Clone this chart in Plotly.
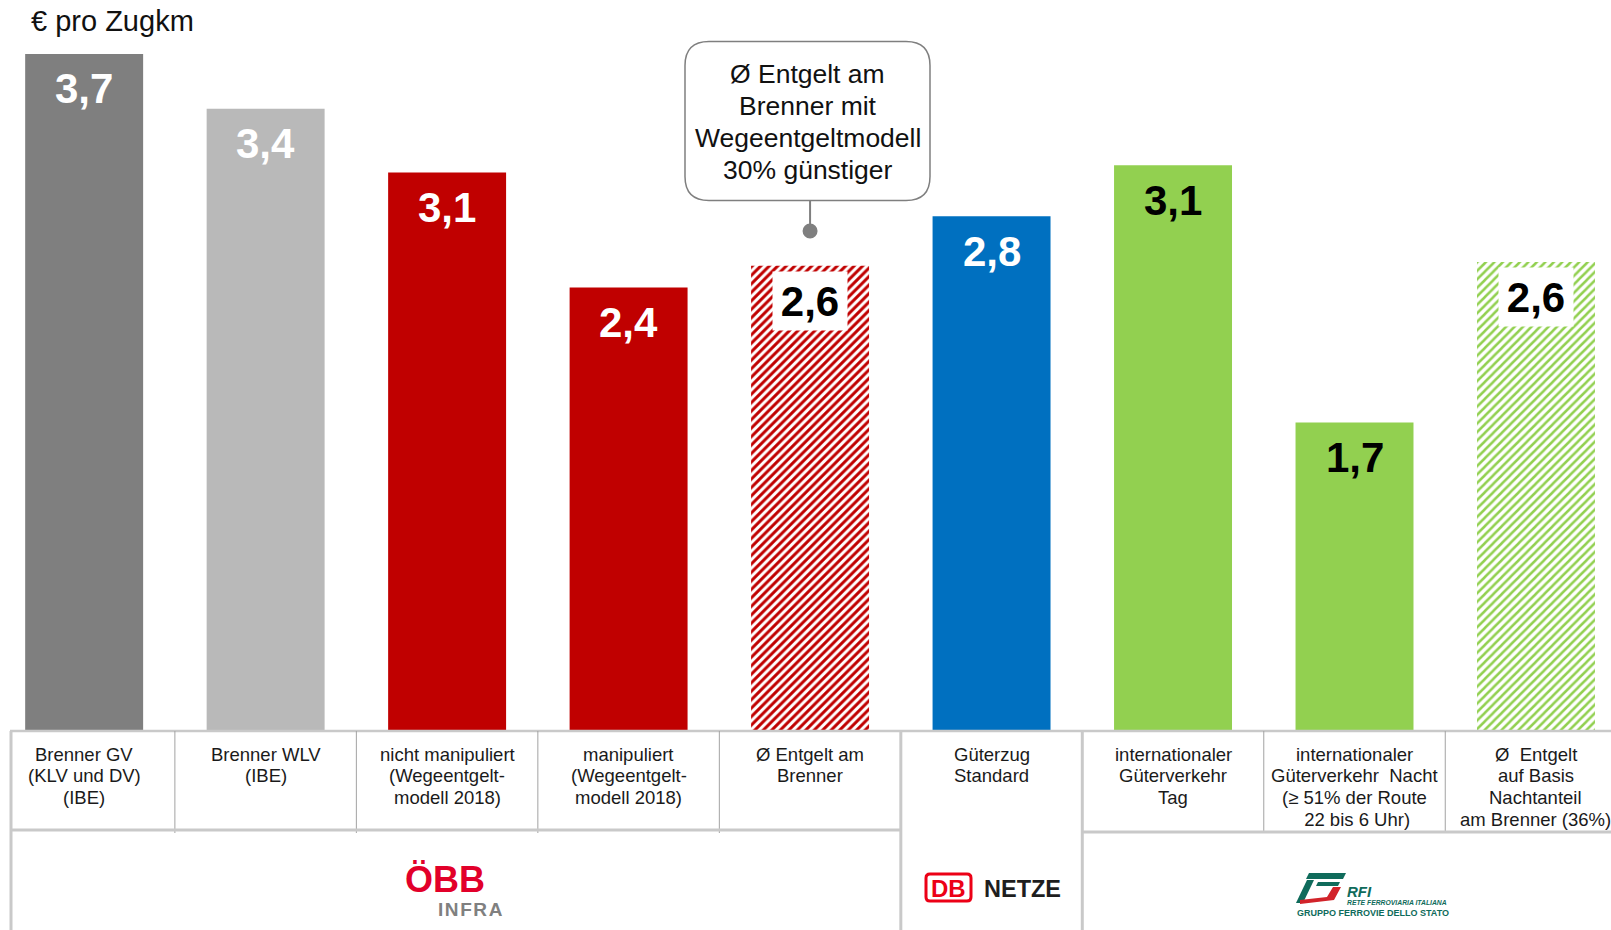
import plotly.graph_objects as go

W, H = 1611, 930
FONT = "Liberation Sans, Arial, sans-serif"

# ---------------- data ----------------
categories = [
    "Brenner GV<br>(KLV und DV)<br>(IBE)",
    "Brenner WLV<br>(IBE)",
    "nicht manipuliert<br>(Wegeentgelt-<br>modell 2018)",
    "manipuliert<br>(Wegeentgelt-<br>modell 2018)",
    "Ø Entgelt am<br>Brenner",
    "Güterzug<br>Standard",
    "internationaler<br>Güterverkehr<br>Tag",
    "internationaler<br>Güterverkehr\u00a0 Nacht<br>(≥ 51% der Route<br>\u00a022 bis 6 Uhr)",
    "Ø\u00a0 Entgelt<br>auf Basis<br>Nachtanteil<br>am Brenner (36%)",
]
values = [3.71, 3.41, 3.06, 2.43, 2.55, 2.82, 3.10, 1.69, 2.57]
value_labels = ["3,7", "3,4", "3,1", "2,4", "2,6", "2,8", "3,1", "1,7", "2,6"]
operators = ["ÖBB", "ÖBB", "ÖBB", "ÖBB", "ÖBB", "DB", "RFI", "RFI", "RFI"]
bar_colors = ["#7F7F7F", "#B9B9B9", "#C00000", "#C00000", "#C00000",
              "#0070C0", "#92D050", "#92D050", "#92D050"]
hatched = [False, False, False, False, True, False, False, False, True]
label_colors = ["white", "white", "white", "white", "black",
                "white", "black", "black", "black"]
unit_title = "€ pro Zugkm"
callout_lines = ["Ø Entgelt am", "Brenner mit", "Wegeentgeltmodell", "30% günstiger"]
callout_target = 4

# ---------------- geometry ----------------
CAT_PX = 181.48
FIRST_CENTER = 84.15
BASE_Y = 731
UNIT_PX = 182.5
X0 = -FIRST_CENTER / CAT_PX
X1 = X0 + W / CAT_PX
Y0 = -(H - BASE_Y) / UNIT_PX
Y1 = BASE_Y / UNIT_PX


def xp(d):
    return (d - X0) / (X1 - X0)


def pxp(p):
    return p / W


def pyp(p):
    return 1 - p / H


fig = go.Figure()
n = len(categories)
xs = list(range(n))

fig.add_trace(go.Bar(
    x=xs, y=values, width=0.65,
    marker=dict(
        color=bar_colors, line=dict(width=0),
        pattern=dict(
            shape=["/" if h else "" for h in hatched],
            fgcolor=bar_colors, bgcolor="white",
            size=6, solidity=[0.5 if c == "#C00000" else 0.42 for c in bar_colors],
            fillmode="replace",
        ),
    ),
    hoverinfo="skip",
))

annotations = []
shapes = []

# value labels
for i in xs:
    a = dict(x=i, y=values[i], xref="x", yref="y", yshift=-35,
             text="<b>" + value_labels[i] + "</b>", showarrow=False,
             xanchor="center", yanchor="middle",
             font=dict(family=FONT, size=42, color=label_colors[i]))
    if hatched[i]:
        a.update(bgcolor="white", width=72, height=56)
    annotations.append(a)

# title
annotations.append(dict(x=pxp(29), y=pyp(21), xref="paper", yref="paper",
                        text=unit_title, showarrow=False, xanchor="left", yanchor="middle",
                        font=dict(family=FONT, size=29, color="#111111")))

# category labels (table row 1)
for i, cat in enumerate(categories):
    for k, line in enumerate(cat.split("<br>")):
        annotations.append(dict(x=i, xref="x", y=pyp(754 + 21.8 * k), yref="paper",
                                text=line, showarrow=False, xanchor="center", yanchor="middle",
                                font=dict(family=FONT, size=18.5, color="#1a1a1a")))

# table lines
LIGHT = "#C9C9C9"
DARK = "#A3A3A3"
shapes.append(dict(type="line", xref="paper", yref="paper", x0=pxp(10), x1=1,
                   y0=pyp(731), y1=pyp(731), line=dict(color=LIGHT, width=2.5)))
shapes.append(dict(type="line", xref="paper", yref="paper", x0=pxp(11), x1=pxp(11),
                   y0=pyp(731), y1=0, line=dict(color=LIGHT, width=3)))
for i in range(n - 1):
    if operators[i] == operators[i + 1]:
        shapes.append(dict(type="line", xref="x", yref="paper", x0=i + 0.5, x1=i + 0.5,
                           y0=pyp(731), y1=pyp(833), line=dict(color=DARK, width=1)))
    else:
        shapes.append(dict(type="line", xref="x", yref="paper", x0=i + 0.5, x1=i + 0.5,
                           y0=pyp(731), y1=0, line=dict(color=LIGHT, width=3)))
# group bottom lines of row 1
first_db = operators.index("DB")
first_rfi = operators.index("RFI")
shapes.append(dict(type="line", xref="paper", yref="paper", x0=pxp(11), x1=xp(first_db - 0.5),
                   y0=pyp(830), y1=pyp(830), line=dict(color=LIGHT, width=3)))
shapes.append(dict(type="line", xref="paper", yref="paper", x0=xp(first_rfi - 0.5), x1=1,
                   y0=pyp(832), y1=pyp(832), line=dict(color=LIGHT, width=3)))


# callout box
def rrect(x0, y0, x1, y1, r):
    pts = [
        ("M", (x0 + r, y0)), ("L", (x1 - r, y0)), ("Q", (x1, y0), (x1, y0 + r)),
        ("L", (x1, y1 - r)), ("Q", (x1, y1), (x1 - r, y1)),
        ("L", (x0 + r, y1)), ("Q", (x0, y1), (x0, y1 - r)),
        ("L", (x0, y0 + r)), ("Q", (x0, y0), (x0 + r, y0)),
    ]
    s = ""
    for p in pts:
        cmd = p[0]
        coords = " ".join(f"{pxp(a):.5f},{pyp(b):.5f}" for a, b in p[1:])
        s += f"{cmd} {coords} "
    return s + "Z"


shapes.append(dict(type="path", xref="paper", yref="paper",
                   path=rrect(685, 41.5, 930, 200.5, 24),
                   line=dict(color="#7F7F7F", width=1.5), fillcolor="white"))
shapes.append(dict(type="line", xref="x", yref="paper", x0=callout_target, x1=callout_target,
                   y0=pyp(200.5), y1=pyp(228), line=dict(color="#7F7F7F", width=2)))
r_c = 7.5
shapes.append(dict(type="circle", xref="x", yref="paper",
                   x0=callout_target - r_c / CAT_PX, x1=callout_target + r_c / CAT_PX,
                   y0=pyp(231 + r_c), y1=pyp(231 - r_c),
                   line=dict(width=0), fillcolor="#7F7F7F"))
for k, line in enumerate(callout_lines):
    annotations.append(dict(x=pxp(807.5), y=pyp(74 + 32 * k), xref="paper", yref="paper",
                            text=line, showarrow=False, xanchor="center", yanchor="middle",
                            font=dict(family=FONT, size=26.5, color="#111111")))

# ---- logos (approximated with text and shapes) ----
# ÖBB Infra
annotations.append(dict(x=pxp(445), y=pyp(879), xref="paper", yref="paper",
                        text="<b>ÖBB</b>", showarrow=False, xanchor="center", yanchor="middle",
                        font=dict(family=FONT, size=36, color="#E2002A")))
annotations.append(dict(x=pxp(470), y=pyp(909), xref="paper", yref="paper",
                        text="<b>I\u200aN\u200aF\u200aR\u200aA</b>", showarrow=False,
                        xanchor="center", yanchor="middle",
                        font=dict(family=FONT, size=19, color="#808080")))
# DB Netze
shapes.append(dict(type="path", xref="paper", yref="paper",
                   path=rrect(926, 874, 971, 901, 4),
                   line=dict(color="#EC0016", width=3), fillcolor="white"))
annotations.append(dict(x=pxp(948.5), y=pyp(888), xref="paper", yref="paper",
                        text="<b>DB</b>", showarrow=False, xanchor="center", yanchor="middle",
                        font=dict(family=FONT, size=24, color="#EC0016")))
annotations.append(dict(x=pxp(982), y=pyp(889), xref="paper", yref="paper",
                        text="<b>NETZE</b>", showarrow=False, xanchor="left", yanchor="middle",
                        font=dict(family=FONT, size=23.5, color="#1E1E1E")))


# RFI
def poly(points):
    s = "M " + " L ".join(f"{pxp(a):.5f},{pyp(b):.5f}" for a, b in points) + " Z"
    return s


TEAL = "#0F6B5B"
RFI_RED = "#D2232A"
shapes.append(dict(type="path", xref="paper", yref="paper",
                   path=poly([(1309, 873), (1346, 873), (1343, 879), (1306, 879)]),
                   line=dict(width=0), fillcolor=TEAL))
shapes.append(dict(type="path", xref="paper", yref="paper",
                   path=poly([(1307, 880), (1314, 880), (1303, 903), (1296, 903)]),
                   line=dict(width=0), fillcolor=TEAL))
shapes.append(dict(type="path", xref="paper", yref="paper",
                   path=poly([(1318, 882), (1340, 882), (1338, 886), (1316, 886)]),
                   line=dict(width=0), fillcolor=TEAL))
shapes.append(dict(type="path", xref="paper", yref="paper",
                   path=poly([(1333, 887), (1341, 887), (1334, 900), (1300, 904), (1300, 900), (1327, 897)]),
                   line=dict(width=0), fillcolor=RFI_RED))
annotations.append(dict(x=pxp(1345), y=pyp(891), xref="paper", yref="paper",
                        text="<b><i>RFI</i></b>", showarrow=False, xanchor="left", yanchor="middle",
                        font=dict(family=FONT, size=15, color=TEAL)))
annotations.append(dict(x=pxp(1345), y=pyp(902.5), xref="paper", yref="paper",
                        text="<b><i>RETE FERROVIARIA ITALIANA</i></b>", showarrow=False,
                        xanchor="left", yanchor="middle",
                        font=dict(family=FONT, size=6.8, color=TEAL)))
annotations.append(dict(x=pxp(1295), y=pyp(913), xref="paper", yref="paper",
                        text="<b>GRUPPO FERROVIE DELLO STATO</b>", showarrow=False,
                        xanchor="left", yanchor="middle",
                        font=dict(family=FONT, size=9, color=TEAL)))

fig.update_layout(
    width=W, height=H,
    margin=dict(l=0, r=0, t=0, b=0, pad=0),
    paper_bgcolor="white", plot_bgcolor="white",
    showlegend=False,
    xaxis=dict(visible=False, range=[X0, X1], fixedrange=True),
    yaxis=dict(visible=False, range=[Y0, Y1], fixedrange=True),
    annotations=annotations,
    shapes=shapes,
    bargap=0.35,
)

fig.write_html("out.html", config={"displayModeBar": False})
